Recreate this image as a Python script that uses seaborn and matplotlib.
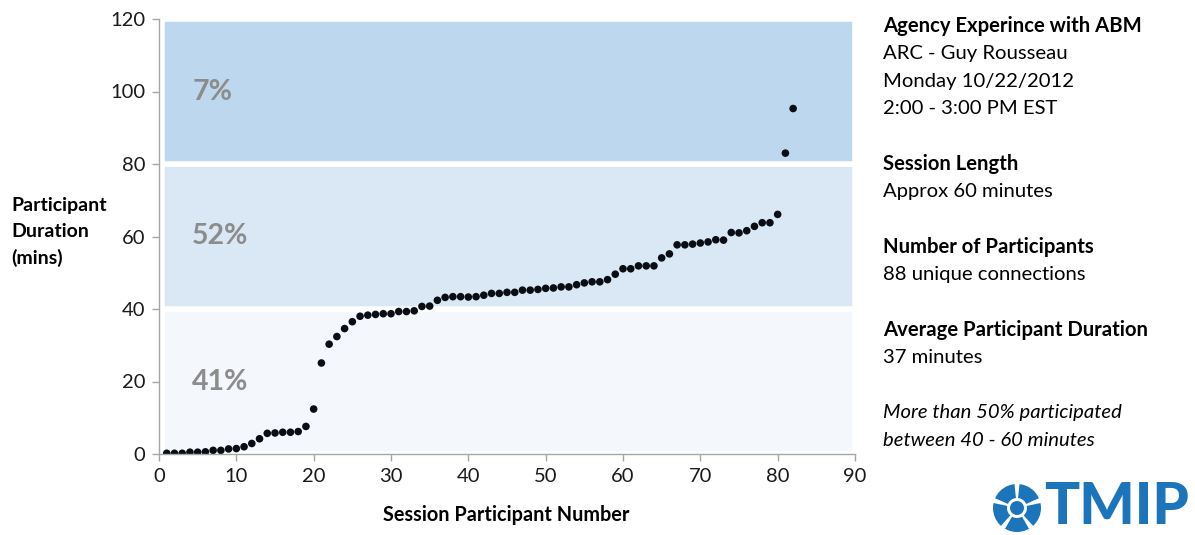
import numpy as np
import pandas as pd
import matplotlib
matplotlib.use("Agg")
import matplotlib.pyplot as plt
from matplotlib.patches import Circle, Wedge
import seaborn as sns

# Participant durations (minutes), sorted, one per session participant
durations = [
    0.2, 0.2, 0.2, 0.5, 0.5, 0.6, 1.0, 1.0, 1.4, 1.5,
    2.0, 2.9, 4.2, 5.7, 5.8, 6.0, 6.0, 6.2, 7.6, 12.4,
    25.1, 30.3, 32.4, 34.6, 36.5, 38.0, 38.3, 38.5, 38.7, 38.7,
    39.3, 39.3, 39.5, 40.7, 40.8, 42.4, 43.2, 43.4, 43.4, 43.3,
    43.4, 43.8, 44.3, 44.3, 44.6, 44.6, 45.2, 45.2, 45.4, 45.7,
    45.8, 46.1, 46.1, 46.7, 47.2, 47.5, 47.5, 48.1, 49.6, 51.1,
    51.1, 51.9, 51.9, 51.9, 54.1, 55.2, 57.7, 57.7, 57.9, 58.2,
    58.5, 59.1, 59.0, 61.1, 61.0, 61.6, 62.8, 63.8, 63.8, 66.1,
    83.0, 95.3,
]
participant = list(range(1, len(durations) + 1))

# Duration bands and the share of participants in each
band_lo = [0, 40, 80]
band_hi = [40, 80, 120]
band_share = ["41%", "52%", "7%"]
band_colors = ["#f4f8fc", "#dae8f5", "#bdd8ee"]

x_ticks = list(range(0, 91, 10))
y_ticks = list(range(0, 121, 20))

info_lines = [
    ("Agency Experince with ABM", "bold", "normal"),
    ("ARC - Guy Rousseau", "normal", "normal"),
    ("Monday 10/22/2012", "normal", "normal"),
    ("2:00 - 3:00 PM EST", "normal", "normal"),
    (None, None, None),
    ("Session Length", "bold", "normal"),
    ("Approx 60 minutes", "normal", "normal"),
    (None, None, None),
    ("Number of Participants", "bold", "normal"),
    ("88 unique connections", "normal", "normal"),
    (None, None, None),
    ("Average Participant Duration", "bold", "normal"),
    ("37 minutes", "normal", "normal"),
    (None, None, None),
    ("More than 50% participated", "normal", "italic"),
    ("between 40 - 60 minutes", "normal", "italic"),
]

sns.set_theme(style="white")
plt.rcParams["font.family"] = ["Lato", "DejaVu Sans"]

df = pd.DataFrame({"participant": participant, "duration": durations})

fig = plt.figure(figsize=(11.95, 5.35), dpi=100)
ax = fig.add_axes([159 / 1195, 1 - 454 / 535, (855 - 159) / 1195, (454 - 19) / 535])

# Shaded duration bands separated by white gaps
for lo, hi, col, share in zip(band_lo, band_hi, band_colors, band_share):
    ax.axhspan(lo, hi, xmin=0.004, xmax=1.0, facecolor=col,
               edgecolor="white", linewidth=4, zorder=0, clip_on=False)
    ax.text(4.3, (lo + hi) / 2, share, fontsize=20.5, fontweight="bold",
            color="#8c8c8c", ha="left", va="center", zorder=1)

sns.scatterplot(data=df, x="participant", y="duration", ax=ax,
                color="#0b0d14", s=30, edgecolor="none", zorder=3)

ax.set_xlim(0, 90)
ax.set_ylim(0, 120)
ax.set_xticks(x_ticks)
ax.set_yticks(y_ticks)
ax.tick_params(axis="both", which="both", direction="out", length=5,
               width=1, color="#a6a6a6", labelsize=14.5, labelcolor="#1a1a1a",
               bottom=True, left=True, pad=5)
for side in ["top", "right"]:
    ax.spines[side].set_visible(False)
for side in ["left", "bottom"]:
    ax.spines[side].set_color("#a6a6a6")
    ax.spines[side].set_linewidth(1)
    ax.spines[side].set_zorder(5)
ax.set_xlabel("")
ax.set_ylabel("")
ax.grid(False)

# Axis titles
fig.text(506 / 1195, 1 - 515 / 535, "Session Participant Number",
         fontsize=14.3, fontweight="bold", ha="center", va="center",
         color="#000000")
fig.text(11 / 1195, 1 - 232 / 535, "Participant\nDuration\n(mins)",
         fontsize=14, fontweight="bold", ha="left", va="center",
         linespacing=1.6, color="#000000")

# Session information panel
y0 = 26
step = 27.6
for i, (line, weight, style) in enumerate(info_lines):
    if line is None:
        continue
    fig.text(883 / 1195, 1 - (y0 + i * step) / 535, line, fontsize=14.6,
             fontweight=weight, fontstyle=style, ha="left", va="center",
             color="#000000")

# TMIP logo
logo_blue = "#1c74bb"
lax = fig.add_axes([990 / 1195, 0, 205 / 1195, 70 / 535])
lax.set_xlim(0, 205)
lax.set_ylim(0, 70)
lax.set_aspect("equal")
lax.axis("off")
cx, cy, r = 27, 27, 24
lax.add_patch(Circle((cx, cy), r, facecolor=logo_blue, edgecolor="none"))
for ang in [90, 162, 234, 306, 18]:
    lax.add_patch(Wedge((cx, cy), r + 1, ang - 6, ang + 6,
                        facecolor="white", edgecolor="none"))
lax.add_patch(Circle((cx, cy), 10, facecolor="white", edgecolor="none"))
lax.add_patch(Circle((cx, cy), 7, facecolor=logo_blue, edgecolor="none"))
lax.text(54, 27, "TMIP", fontsize=42, fontweight="black", color=logo_blue,
         ha="left", va="center", family=["Lato", "DejaVu Sans"])

fig.savefig("out.png", dpi=100, facecolor="white")
